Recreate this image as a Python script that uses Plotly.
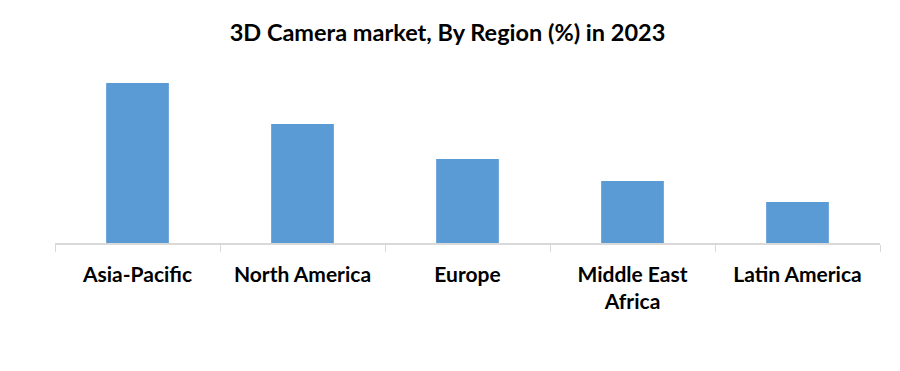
import plotly.graph_objects as go

regions = ["Asia-Pacific", "North America", "Europe", "Middle East<br>Africa", "Latin America"]
shares = [34.3, 25.5, 18.0, 13.3, 8.8]
title_text = "3D Camera market, By Region (%) in 2023"

# page body has an 8px offset, so margins are compensated
fig = go.Figure(go.Bar(x=regions, y=shares, marker_color="#5B9BD5", marker_line_width=0))

fig.update_layout(
    width=900, height=371,
    paper_bgcolor="white", plot_bgcolor="white",
    margin=dict(l=47, r=28, t=52, b=136),
    bargap=0.62,
    showlegend=False,
    font=dict(family="Lato", color="black"),
    title=dict(text="<b>" + title_text + "</b>", x=(447.5 - 8) / 900, xanchor="center",
               y=1 - 25/371, yanchor="middle", yref="container",
               font=dict(size=23.5, family="Lato", color="black")),
)
fig.update_xaxes(showline=True, linecolor="#d9d9d9", linewidth=1.5,
                 ticks="outside", tickson="boundaries", ticklen=7, tickcolor="#d9d9d9",
                 tickfont=dict(size=21, family="Lato", color="black"),
                 ticklabelstandoff=12, tickprefix="<b>", ticksuffix="</b>")
fig.update_yaxes(visible=False, range=[0, 39.25], showgrid=False)

fig.write_html("out.html")
